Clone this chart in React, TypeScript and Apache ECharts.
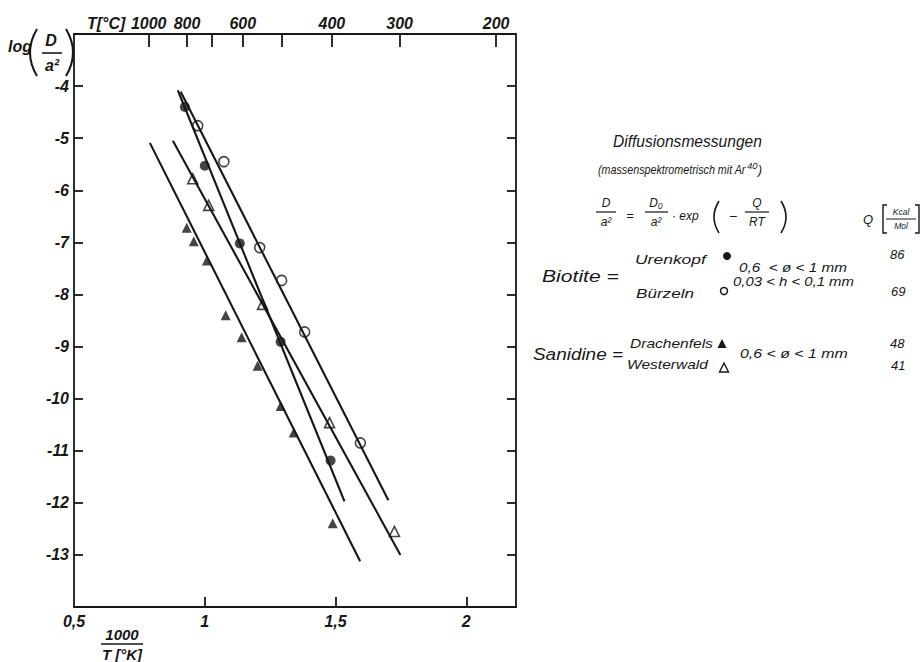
import React, { useEffect, useRef } from 'react';
import * as echarts from 'echarts';

// ---- axis ticks / labels ----
const xTickValues = [1, 1.5, 2];
const xLabelValues = [0.5, 1, 1.5, 2];
const yTickValues = [-13, -12, -11, -10, -9, -8, -7, -6, -5, -4];
const tempTicksC = [1000, 800, 700, 600, 500, 400, 300, 200];
const tempLabelsC = [1000, 800, 600, 400, 300, 200];

// ---- Biotite Urenkopf (filled circles) ----
const urenkopfX = [0.924, 1.0, 1.134, 1.29, 1.481];
const urenkopfY = [-4.4, -5.53, -7.02, -8.91, -11.19];
const urenkopfFit = [[0.897, -4.08], [1.534, -11.97]];

// ---- Biotite Bürzeln (open circles) ----
const buerzelnX = [0.973, 1.073, 1.21, 1.294, 1.382, 1.595];
const buerzelnY = [-4.76, -5.45, -7.1, -7.73, -8.72, -10.85];
const buerzelnFit = [[0.908, -4.11], [1.702, -11.95]];

// ---- Sanidine Drachenfels (filled triangles) ----
const drachenfelsX = [0.931, 0.958, 1.008, 1.08, 1.141, 1.202, 1.29, 1.34, 1.489];
const drachenfelsY = [-6.72, -6.98, -7.35, -8.4, -8.82, -9.37, -10.14, -10.65, -12.39];
const drachenfelsFit = [[0.79, -5.09], [1.594, -13.12]];

// ---- Sanidine Westerwald (open triangles) ----
const westerwaldX = [0.954, 1.015, 1.221, 1.477, 1.725];
const westerwaldY = [-5.78, -6.29, -8.19, -10.46, -12.55];
const westerwaldFit = [[0.878, -5.05], [1.748, -13.0]];

const INK = '#171717';
const FONT = 'Liberation Sans';

const zip = (xs: number[], ys: number[]) => xs.map((x, i) => [x, ys[i]]);
const toInvK = (c: number) => 1000 / (c + 273);

let measureCtx: CanvasRenderingContext2D | null = null;
function measure(text: string, size: number, weight = 'normal') {
  if (!measureCtx) measureCtx = document.createElement('canvas').getContext('2d');
  if (!measureCtx) return text.length * size * 0.5;
  measureCtx.font = `italic ${weight} ${size}px "${FONT}"`;
  return measureCtx.measureText(text).width;
}

function txt(x: number, y: number, text: string, size: number, align = 'left', sx = 1, weight = 'normal') {
  return {
    type: 'text',
    x,
    y,
    scaleX: sx,
    silent: true,
    style: {
      text,
      fontSize: size,
      fontFamily: FONT,
      fontStyle: 'italic',
      fontWeight: weight,
      fill: INK,
      align,
      verticalAlign: 'middle',
      textAlign: align,
      textVerticalAlign: 'middle',
    },
  };
}
// text stretched so that it spans exactly [x, x + width]
function fitTxt(x: number, y: number, text: string, size: number, width: number, weight = 'normal') {
  const w = measure(text, size, weight);
  return txt(x, y, text, size, 'left', w > 0 ? width / w : 1, weight);
}
function ln(x1: number, y1: number, x2: number, y2: number, w = 1.3) {
  return { type: 'line', silent: true, shape: { x1, y1, x2, y2 }, style: { stroke: INK, lineWidth: w } };
}
function paren(x: number, yTop: number, yBot: number, bulge: number, w = 1.6) {
  return {
    type: 'bezierCurve',
    silent: true,
    shape: { x1: x, y1: yTop, x2: x, y2: yBot, cpx1: x + bulge, cpy1: (yTop + yBot) / 2 },
    style: { stroke: INK, lineWidth: w, fill: 'none' },
  };
}

export default function App() {
  const ref = useRef<HTMLDivElement>(null);
  useEffect(() => {
    if (!ref.current) return;
    const chart = echarts.init(ref.current, null, { renderer: 'svg' });
    const axisLabelBase = { fontFamily: FONT, fontStyle: 'italic', fontWeight: 'bold', fontSize: 16, color: INK };
    const lineSeries = (data: number[][]) => ({
      type: 'line',
      data,
      symbol: 'none',
      lineStyle: { color: INK, width: 2.1 },
      silent: true,
    });
    const scatter = (data: number[][], symbol: string, filled: boolean, size: number) => ({
      type: 'scatter',
      data,
      symbol,
      symbolSize: size,
      itemStyle: filled
        ? { color: INK }
        : { color: '#ffffff', borderColor: INK, borderWidth: 1.6 },
      silent: true,
    });

    const sub = '(massenspektrometrisch mit Ar';
    const subX = 598;
    const subW = 148;

    const graphics: any[] = [
      // top axis name
      txt(87, 23, 'T[°C]', 16, 'left', 1, 'bold'),
      // y axis name log(D/a²)
      txt(8, 46, 'log', 16, 'left', 1, 'bold'),
      paren(37, 29, 76, -14, 2),
      txt(51, 40, 'D', 16, 'center', 1, 'bold'),
      ln(42, 53, 62, 53, 1.6),
      txt(52, 65, 'a²', 16, 'center', 1, 'bold'),
      paren(66, 29, 76, 14, 2),
      // x axis name 1000 / T[°K]
      txt(122, 634, '1000', 15, 'center', 1, 'bold'),
      ln(101, 644, 143, 644, 1.6),
      txt(122, 654, 'T [°K]', 15, 'center', 1, 'bold'),
      // legend block
      fitTxt(613, 141, 'Diffusionsmessungen', 17, 149),
      fitTxt(subX, 170, sub, 12, subW),
      txt(subX + subW + 1, 165, '40', 9.5),
      txt(subX + subW + 12, 170, ')', 12),
      // formula
      txt(606, 203, 'D', 12, 'center'),
      ln(596, 212, 616, 212, 1.2),
      txt(606, 222, 'a²', 12, 'center'),
      txt(630, 215, '=', 13, 'center'),
      txt(656, 203, 'D₀', 12, 'center'),
      ln(645, 212, 668, 212, 1.2),
      txt(656, 222, 'a²', 12, 'center'),
      txt(672, 216, '· exp', 12),
      paren(719, 201, 233, -10, 1.6),
      txt(729, 216, '−', 14),
      txt(757, 203, 'Q', 12, 'center'),
      ln(745, 212, 769, 212, 1.2),
      txt(757, 222, 'RT', 12, 'center'),
      paren(781, 201, 233, 10, 1.6),
      txt(868, 219, 'Q', 13, 'center'),
      {
        type: 'polyline', silent: true,
        shape: { points: [[887, 205], [883, 205], [883, 233], [887, 233]] },
        style: { stroke: INK, lineWidth: 1.4, fill: 'none' },
      },
      {
        type: 'polyline', silent: true,
        shape: { points: [[915, 205], [919, 205], [919, 233], [915, 233]] },
        style: { stroke: INK, lineWidth: 1.4, fill: 'none' },
      },
      txt(901, 212, 'Kcal', 8.5, 'center'),
      ln(886, 219, 916, 219, 1),
      txt(901, 226, 'Mol', 8.5, 'center'),
      // Biotite rows
      fitTxt(635, 259, 'Urenkopf', 12.5, 71),
      { type: 'circle', silent: true, shape: { cx: 727, cy: 256, r: 4 }, style: { fill: INK } },
      fitTxt(739, 268, '0,6  < ø < 1 mm', 12.5, 108),
      txt(890, 254, '86', 13),
      fitTxt(542, 276, 'Biotite =', 17, 77),
      fitTxt(636, 293, 'Bürzeln', 12.5, 58),
      { type: 'circle', silent: true, shape: { cx: 724, cy: 291, r: 3.5 }, style: { fill: '#fff', stroke: INK, lineWidth: 1.5 } },
      fitTxt(733, 282, '0,03 < h < 0,1 mm', 12.5, 121),
      txt(891, 291, '69', 13),
      // Sanidine rows
      fitTxt(533, 354, 'Sanidine =', 17, 90),
      fitTxt(630, 344, 'Drachenfels', 12.5, 83),
      { type: 'polygon', silent: true, shape: { points: [[722, 339], [726.5, 348], [717.5, 348]] }, style: { fill: INK } },
      fitTxt(627, 365, 'Westerwald', 12.5, 81),
      { type: 'polygon', silent: true, shape: { points: [[724, 363], [728.5, 372], [719.5, 372]] }, style: { fill: '#fff', stroke: INK, lineWidth: 1.4 } },
      fitTxt(740, 354, '0,6 < ø < 1 mm', 12.5, 108),
      txt(890, 343, '48', 13),
      txt(891, 365, '41', 13),
    ];

    chart.setOption({
      animation: false,
      backgroundColor: '#ffffff',
      grid: { left: 74, right: 406, top: 34, bottom: 55, containLabel: false },
      xAxis: [
        {
          type: 'value',
          position: 'bottom',
          min: 0.5,
          max: 2.19,
          axisLine: { show: true, onZero: false, lineStyle: { color: INK, width: 1.8 } },
          axisTick: { show: true, inside: true, length: 10, customValues: xTickValues, lineStyle: { color: INK, width: 1.8 } },
          axisLabel: {
            ...axisLabelBase,
            margin: 6,
            customValues: xLabelValues,
            formatter: (v: number) => String(v).replace('.', ','),
          },
          splitLine: { show: false },
        },
        {
          type: 'value',
          position: 'top',
          min: 0.5,
          max: 2.19,
          axisLine: { show: true, onZero: false, lineStyle: { color: INK, width: 1.8 } },
          axisTick: { show: true, inside: true, length: 13, customValues: tempTicksC.map(toInvK), lineStyle: { color: INK, width: 1.8 } },
          axisLabel: {
            ...axisLabelBase,
            margin: 3,
            customValues: tempLabelsC.map(toInvK),
            formatter: (v: number) => String(Math.round(1000 / v - 273)),
          },
          splitLine: { show: false },
        },
      ],
      yAxis: [
        {
          type: 'value',
          position: 'left',
          min: -14,
          max: -3,
          axisLine: { show: true, onZero: false, lineStyle: { color: INK, width: 1.8 } },
          axisTick: { show: true, inside: true, length: 9, customValues: yTickValues, lineStyle: { color: INK, width: 1.8 } },
          axisLabel: { ...axisLabelBase, margin: 5, customValues: yTickValues, formatter: (v: number) => String(v) },
          splitLine: { show: false },
        },
        {
          type: 'value',
          position: 'right',
          min: -14,
          max: -3,
          axisLine: { show: true, onZero: false, lineStyle: { color: INK, width: 1.8 } },
          axisTick: { show: true, inside: true, length: 9, customValues: yTickValues, lineStyle: { color: INK, width: 1.8 } },
          axisLabel: { show: false },
          splitLine: { show: false },
        },
      ],
      series: [
        lineSeries(urenkopfFit),
        lineSeries(buerzelnFit),
        lineSeries(drachenfelsFit),
        lineSeries(westerwaldFit),
        scatter(zip(urenkopfX, urenkopfY), 'circle', true, 10),
        scatter(zip(buerzelnX, buerzelnY), 'circle', false, 10),
        scatter(zip(drachenfelsX, drachenfelsY), 'triangle', true, 10),
        scatter(zip(westerwaldX, westerwaldY), 'triangle', false, 10),
      ],
      graphic: graphics,
    });
    return () => chart.dispose();
  }, []);
  return <div ref={ref} style={{ width: 922, height: 662, position: 'absolute', left: 0, top: 0 }} />;
}
